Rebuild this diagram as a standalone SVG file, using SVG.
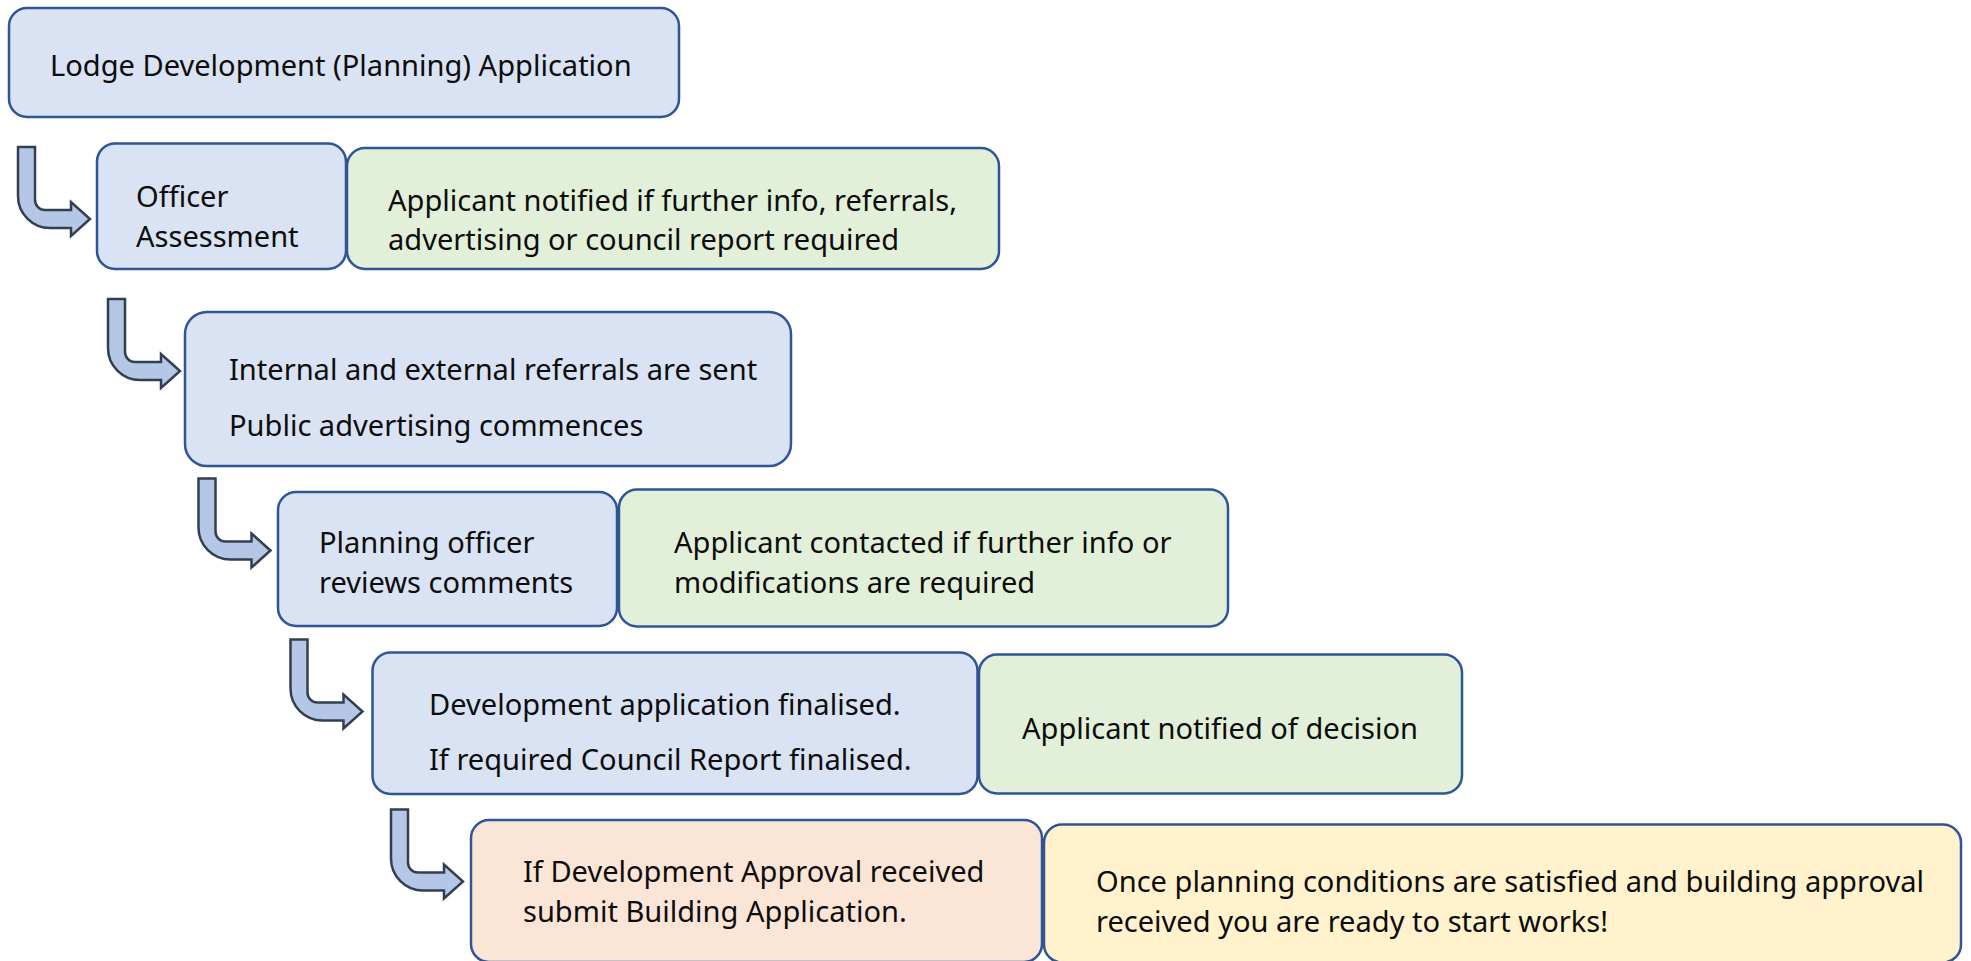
<svg xmlns="http://www.w3.org/2000/svg" width="1971" height="961" viewBox="0 0 1971 961">
<style>
  text { font-family: "Noto Sans", "Open Sans", sans-serif; font-size: 29.05px; fill: #0d0d0d; }
  .box { stroke: #2F5597; stroke-width: 2.5; }
  .blue { fill: #DAE3F3; }
  .green { fill: #E2F0D9; }
  .peach { fill: #FBE5D6; }
  .yellow { fill: #FFF2CC; }
  .arrow { fill: #B4C7E7; stroke: #333F50; stroke-width: 2.5; stroke-linejoin: miter; }
</style>
<defs>
  <path id="bent" d="M0,0 H17 V53 A10,10 0 0 0 27,63 H53 V55 L72,72 L53,89 V81 H32 A32,32 0 0 1 0,49 Z"/>
</defs>
<rect width="1971" height="961" fill="#ffffff"/>

<g id="connectors">
  <use href="#bent" class="arrow" x="18" y="147"/>
  <use href="#bent" class="arrow" x="108" y="299"/>
  <use href="#bent" class="arrow" x="198.5" y="478.5"/>
  <use href="#bent" class="arrow" x="290.5" y="639.5"/>
  <use href="#bent" class="arrow" x="391" y="809.5"/>
</g>

<g id="node-lodge">
  <rect class="box blue" x="9" y="8" width="670" height="109" rx="18"/>
  <text x="50" y="76">Lodge Development (Planning) Application</text>
</g>

<g id="node-officer">
  <rect class="box blue" x="97" y="143.5" width="249" height="125.5" rx="18"/>
  <text x="136" y="207">Officer</text>
  <text x="136" y="247">Assessment</text>
</g>

<g id="node-notified-info">
  <rect class="box green" x="347" y="148" width="652" height="121" rx="18"/>
  <text x="388" y="211">Applicant notified if further info, referrals,</text>
  <text x="388" y="250">advertising or council report required</text>
</g>

<g id="node-referrals">
  <rect class="box blue" x="185" y="312" width="606" height="154" rx="22"/>
  <text x="229" y="380">Internal and external referrals are sent</text>
  <text x="229" y="436">Public advertising commences</text>
</g>

<g id="node-reviews">
  <rect class="box blue" x="278" y="492" width="339" height="134" rx="18"/>
  <text x="319" y="553">Planning officer</text>
  <text x="319" y="593">reviews comments</text>
</g>

<g id="node-contacted">
  <rect class="box green" x="619" y="489.5" width="609" height="137" rx="18"/>
  <text x="674" y="553">Applicant contacted if further info or</text>
  <text x="674" y="593">modifications are required</text>
</g>

<g id="node-finalised">
  <rect class="box blue" x="372.5" y="652.5" width="605" height="141.5" rx="18"/>
  <text x="429" y="715">Development application finalised.</text>
  <text x="429" y="770">If required Council Report finalised.</text>
</g>

<g id="node-decision">
  <rect class="box green" x="979" y="654.5" width="483" height="139" rx="18"/>
  <text x="1022" y="739">Applicant notified of decision</text>
</g>

<g id="node-building">
  <rect class="box peach" x="471" y="820" width="571" height="142" rx="18"/>
  <text x="523" y="882">If Development Approval received</text>
  <text x="523" y="922">submit Building Application.</text>
</g>

<g id="node-start">
  <rect class="box yellow" x="1044" y="824.5" width="917" height="138" rx="18"/>
  <text x="1096" y="892">Once planning conditions are satisfied and building approval</text>
  <text x="1096" y="932">received you are ready to start works!</text>
</g>
</svg>
